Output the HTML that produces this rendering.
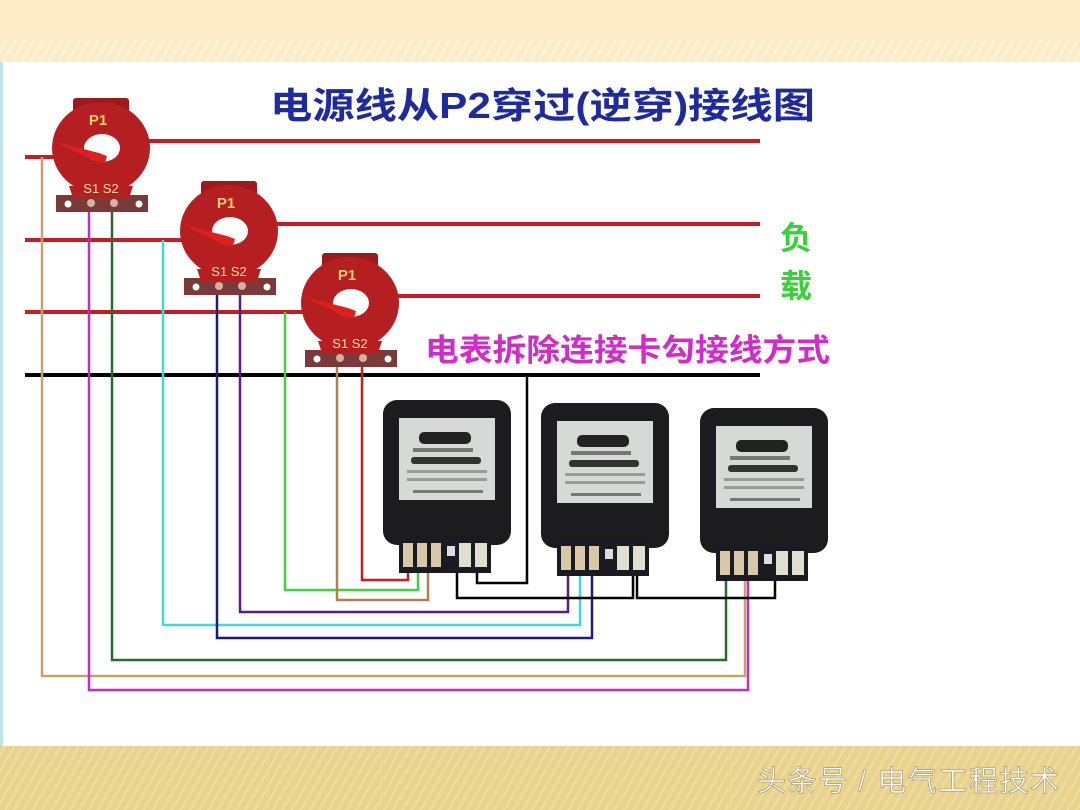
<!DOCTYPE html>
<html><head><meta charset="utf-8"><style>
html,body{margin:0;padding:0;width:1080px;height:810px;overflow:hidden;background:#fff}
svg{display:block}
text{font-family:"Liberation Sans","Noto Sans CJK SC",sans-serif}
</style></head><body>
<svg width="1080" height="810" viewBox="0 0 1080 810" xmlns="http://www.w3.org/2000/svg">
<defs>
<pattern id="st" width="8" height="8" patternUnits="userSpaceOnUse" patternTransform="rotate(30)">
<rect width="8" height="8" fill="#e8d28e"/><rect width="3" height="8" fill="#eedb9c"/></pattern>
<pattern id="st2" width="8" height="8" patternUnits="userSpaceOnUse" patternTransform="rotate(30)">
<rect width="8" height="8" fill="#fcebc7"/><rect width="3" height="8" fill="#fdf1d6"/></pattern>
<g id="ct">
 <rect x="-28" y="-50" width="56" height="16" rx="3" fill="#9c1a1a"/>
 <rect x="-45" y="47" width="92" height="17" fill="#7a3a3a"/>
 <circle cx="-33" cy="56" r="3.5" fill="#fff"/><circle cx="38" cy="56" r="3.5" fill="#fff"/>
 <circle cx="-10" cy="55" r="4" fill="#d9b0a0"/><circle cx="13" cy="55" r="4" fill="#d9b0a0"/>
 <ellipse cx="0" cy="0" rx="49" ry="46" fill="#b51f22"/>
 <path d="M-32 38 L32 38 L28 50 L-28 50Z" fill="#b51f22"/>
 <ellipse cx="1" cy="0" rx="18" ry="14" fill="#fff"/>
 <path d="M-45 -6 L-2 5 L6 8 L4 15 L-4 14 Z" fill="#e02020"/>
 <text x="-3" y="-23" font-size="15" fill="#ffcf70" text-anchor="middle" font-weight="bold">P1</text>
 <text x="0" y="45" font-size="13" fill="#ffe0a0" text-anchor="middle">S1 S2</text>
</g>
<g id="meter">
 <rect x="0" y="0" width="128" height="145" rx="14" fill="#1c1c1e"/>
 <rect x="16" y="18" width="96" height="82" fill="#d7d9d6"/>
 <rect x="36" y="32" width="52" height="12" rx="5" fill="#222"/>
 <rect x="28" y="57" width="70" height="7" rx="3" fill="#333"/>
 <rect x="30" y="48" width="60" height="4" fill="#777"/>
 <rect x="24" y="70" width="80" height="3" fill="#999"/>
 <rect x="24" y="78" width="80" height="3" fill="#999"/>
 <rect x="30" y="90" width="70" height="3" fill="#777"/>
 <rect x="16" y="138" width="92" height="35" fill="#1a1a22"/>
 <rect x="20" y="143" width="10" height="24" fill="#d8c8a8"/>
 <rect x="34" y="143" width="10" height="24" fill="#d8c8a8"/>
 <rect x="48" y="143" width="10" height="24" fill="#d8c8a8"/>
 <rect x="64" y="146" width="8" height="10" fill="#ddd"/>
 <rect x="76" y="143" width="12" height="24" fill="#e0e0d0"/>
 <rect x="92" y="143" width="12" height="24" fill="#e0e0d0"/>
</g>
</defs>
<rect x="0" y="0" width="1080" height="62" fill="#fdecc8"/>
<rect x="0" y="40" width="1080" height="22" fill="url(#st2)"/>
<rect x="0" y="746" width="1080" height="64" fill="url(#st)"/>
<rect x="0" y="62" width="3" height="684" fill="#bfe3ea"/>

<text x="270" y="118" font-size="36" font-weight="bold" fill="#1f2a9c" textLength="545" lengthAdjust="spacingAndGlyphs">电源线从P2穿过(逆穿)接线图</text>
<text x="780" y="249" font-size="32" font-weight="bold" fill="#3ccf3c">负</text>
<text x="780" y="297" font-size="32" font-weight="bold" fill="#3ccf3c">载</text>
<text x="425" y="361" font-size="31" font-weight="bold" fill="#d02ccc" textLength="405" lengthAdjust="spacingAndGlyphs">电表拆除连接卡勾接线方式</text>

<g fill="none" stroke-width="2.5">
<path d="M25 157H60 M60 141H760 M25 240H185 M185 224H760 M25 312H305 M305 296H760" stroke="#c41e24" stroke-width="4"/>
<path d="M25 375H760" stroke="#000" stroke-width="4"/>
<path d="M42 157V676H745V570" stroke="#c9a070"/>
<path d="M89 205V690H748V570" stroke="#c030c0"/>
<path d="M112 205V660H726V570" stroke="#2a6a2a"/>
<path d="M163 240V625H580V560" stroke="#40d8d8"/>
<path d="M217 287V638H592V565" stroke="#1a1a80"/>
<path d="M240 287V612H568V565" stroke="#5a1a8a"/>
<path d="M285 312V590H418V555" stroke="#40d040"/>
<path d="M337 366V600H428V565" stroke="#b08050"/>
<path d="M362 366V580H408V565" stroke="#c42020"/>
<path d="M527 375V583H477V565" stroke="#000"/>
<path d="M457 565V598H633V565" stroke="#000"/>
<path d="M637 565V598H775V570" stroke="#000"/>
</g>

<use href="#ct" x="101" y="148"/>
<use href="#ct" x="229" y="231"/>
<use href="#ct" x="350" y="303"/>

<use href="#meter" x="383" y="400"/>
<use href="#meter" x="541" y="403"/>
<use href="#meter" x="700" y="408"/>

<text x="757" y="791" font-size="29" fill="#fff" stroke="#9a8a60" stroke-width="0.6" textLength="302" lengthAdjust="spacing">头条号 / 电气工程技术</text>
</svg>
</body></html>
